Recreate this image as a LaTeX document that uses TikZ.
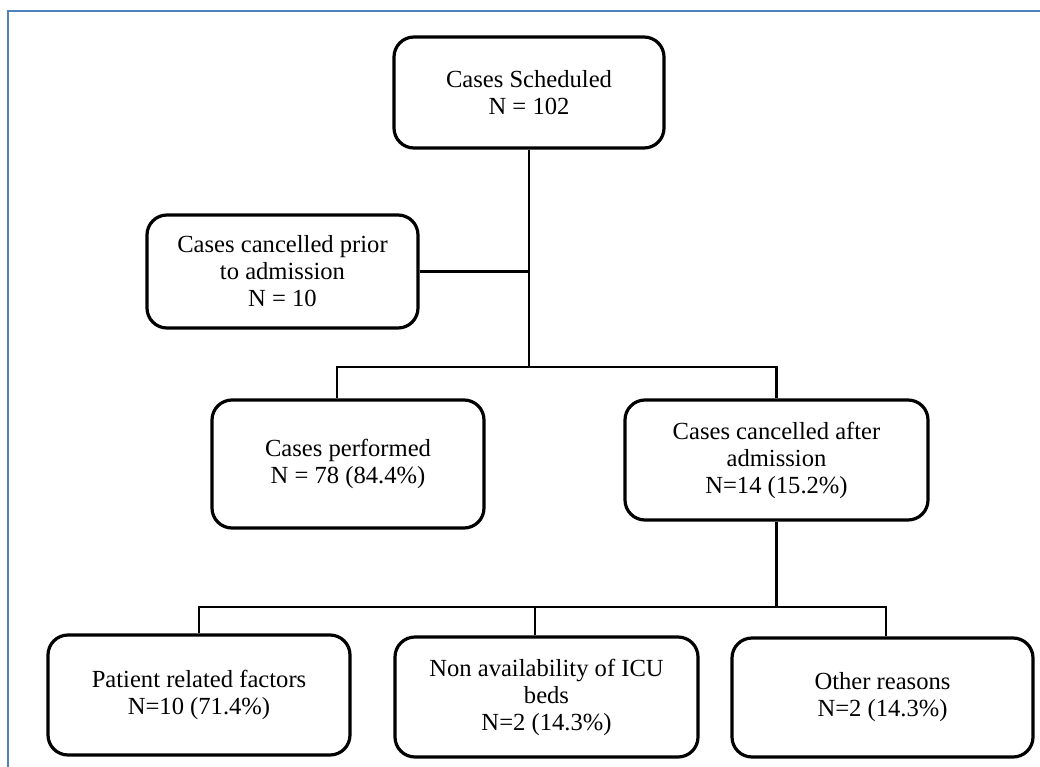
\documentclass[tikz,border=0pt]{standalone}
\usepackage{fontspec}
\setmainfont{Liberation Serif}
\definecolor{framecol}{RGB}{79,129,189}
\begin{document}
\begin{tikzpicture}[x=1pt,y=-1pt,
  box/.style={draw=black, line width=3.2pt, rounded corners=20pt, align=center,
    inner sep=0pt, font=\fontsize{24.6}{27}\selectfont},
  link/.style={draw=black, line width=2.4pt}]
\useasboundingbox (0,0) rectangle (1040,767);
\fill[white] (0,0) rectangle (1040,767);
\draw[framecol, line width=2.6pt] (8,767) -- (8,11) -- (1040,11);

\node[box, minimum width=270pt, minimum height=111pt] (top) at (529,92.5) {Cases Scheduled\\N = 102};
\node[box, minimum width=271pt, minimum height=113pt] (prior) at (282.5,271.5) {Cases cancelled prior\\to admission\\N = 10};
\node[box, minimum width=272pt, minimum height=128pt] (perf) at (348,464) {Cases performed\\N = 78 (84.4\%)};
\node[box, minimum width=303pt, minimum height=120pt] (canc) at (776.5,460) {Cases cancelled after\\admission\\N=14 (15.2\%)};
\node[box, minimum width=302pt, minimum height=120pt] (pat) at (199,695) {Patient related factors\\N=10 (71.4\%)};
\node[box, minimum width=303pt, minimum height=120pt] (icu) at (546.5,697) {Non availability of ICU\\beds\\N=2 (14.3\%)};
\node[box, minimum width=301pt, minimum height=119pt] (oth) at (882.5,697.5) {Other reasons\\N=2 (14.3\%)};

\coordinate (j1) at (top.south |- 0,367);
\coordinate (j2) at (canc.south |- 0,607);
\coordinate (pj) at (337,0);
\coordinate (ij) at (535,0);
\coordinate (oj) at (886,0);

\draw[link] (top.south) -- (j1);
\draw[link] (prior.east) -- (prior.east -| top.south);
\draw[link] (pj |- perf.north) -- (pj |- j1) -- (canc.north |- j1) -- (canc.north);
\draw[link] (canc.south) -- (j2);
\draw[link] (pat.north) -- (pat.north |- j2) -- (oj |- j2) -- (oj |- oth.north);
\draw[link] (ij |- j2) -- (ij |- icu.north);
\end{tikzpicture}
\end{document}
